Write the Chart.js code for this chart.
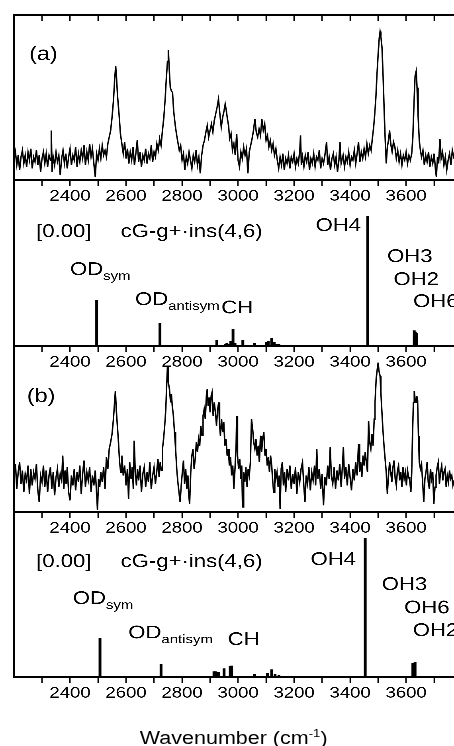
<!DOCTYPE html>
<html>
<head>
<meta charset="utf-8">
<script src="https://cdn.jsdelivr.net/npm/chart.js@4.4.0/dist/chart.umd.min.js"></script>
<style>
  html, body { margin: 0; padding: 0; background: #fff; overflow: hidden; }
  #fig { position: absolute; left: 0; top: 0; width: 380px; height: 746px; transform: scaleX(1.19474); transform-origin: 0 0; }
  #fig canvas { position: absolute; left: 0; }
  #xtitle { position: absolute; left: 117px; top: 729px; font: 18px "Liberation Sans", Arial, sans-serif; line-height: 18px; white-space: nowrap; color: #000; }
  #xtitle sup { font-size: 11px; vertical-align: 7px; line-height: 0; }
</style>
</head>
<body>
<div id="fig">
  <canvas id="specA" width="380" height="210" style="top:0"></canvas>
  <canvas id="stickA" width="380" height="196" style="top:180px"></canvas>
  <canvas id="specB" width="380" height="196" style="top:346px"></canvas>
  <canvas id="stickB" width="380" height="195" style="top:512px"></canvas>
  <div id="xtitle">Wavenumber (cm<sup>-1</sup>)</div>
</div>
<script>
// wavenumber axis
const X_MIN = 2200;
const X_MAX = 3771;
const tickMarks = [2300, 2400, 2500, 2600, 2700, 2800, 2900, 3000, 3100, 3200, 3300, 3400, 3500, 3600, 3700];
const tickLabels = [2400, 2600, 2800, 3000, 3200, 3400, 3600];

// (a) measured spectrum, [wavenumber, intensity]
const specA = [[2200,12],[2205,17],[2210,9],[2215,15],[2220,6],[2225,14],[2230,18],[2235,10],[2240,15],[2245,8],
  [2250,17],[2255,12],[2260,19],[2265,7],[2270,14],[2275,11],[2280,18],[2285,9],[2290,15],[2295,5],[2300,13],[2305,17],
  [2310,10],[2315,16],[2320,8],[2325,15],[2330,12],[2333,30],[2336,5],[2340,14],[2345,9],[2350,17],[2355,11],[2360,15],
  [2365,3],[2370,13],[2375,18],[2380,10],[2385,16],[2390,7],[2395,14],[2400,19],[2405,9],[2410,15],[2415,12],[2420,20],
  [2425,8],[2430,16],[2435,11],[2440,18],[2445,13],[2450,21],[2455,9],[2460,17],[2465,12],[2470,22],[2475,14],[2480,19],
  [2485,10],[2490,2],[2495,16],[2500,12],[2505,19],[2510,13],[2515,21],[2520,15],[2525,18],[2530,14],[2535,22],[2540,26],
  [2545,30],[2550,38],[2555,48],[2559,60],[2563,69],[2566,62],[2570,50],[2575,40],[2580,28],[2585,22],[2590,16],[2595,23],
  [2600,13],[2605,19],[2610,10],[2615,17],[2620,12],[2625,20],[2630,9],[2635,16],[2640,24],[2645,11],[2650,17],[2655,8],
  [2660,15],[2665,12],[2670,19],[2675,10],[2680,16],[2685,13],[2690,21],[2695,11],[2700,17],[2705,14],[2710,22],[2715,18],
  [2720,25],[2725,21],[2730,30],[2735,38],[2740,50],[2744,62],[2748,72],[2751,79],[2754,68],[2758,56],[2762,54],[2766,53],
  [2770,42],[2775,34],[2780,28],[2785,23],[2790,18],[2795,21],[2800,12],[2805,16],[2810,6],[2815,14],[2820,10],[2825,17],
  [2830,12],[2835,7],[2840,15],[2845,11],[2850,18],[2855,9],[2860,14],[2865,4],[2870,15],[2875,21],[2880,24],[2885,29],
  [2890,33],[2895,26],[2900,30],[2905,34],[2910,29],[2915,36],[2920,40],[2925,44],[2930,49],[2935,40],[2940,32],[2945,38],
  [2950,42],[2954,46],[2958,42],[2962,37],[2966,33],[2970,25],[2975,28],[2980,18],[2985,22],[2990,15],[2995,28],[3000,12],
  [3005,8],[3010,17],[3015,13],[3020,20],[3025,15],[3030,19],[3035,4],[3040,17],[3045,21],[3050,25],[3055,30],[3060,37],
  [3065,29],[3070,26],[3075,31],[3080,27],[3085,37],[3090,30],[3095,34],[3100,24],[3105,27],[3110,20],[3115,24],[3120,18],
  [3125,22],[3130,15],[3135,19],[3140,12],[3145,7],[3150,14],[3155,9],[3160,16],[3165,6],[3170,13],[3175,10],[3180,15],
  [3185,7],[3190,14],[3195,11],[3200,16],[3205,8],[3210,13],[3215,10],[3220,17],[3223,27],[3226,9],[3230,14],[3235,8],
  [3240,15],[3245,11],[3250,17],[3255,6],[3260,13],[3265,10],[3270,16],[3275,8],[3280,14],[3285,12],[3290,18],[3295,7],
  [3300,13],[3305,10],[3310,15],[3316,23],[3320,9],[3325,14],[3330,6],[3335,13],[3340,16],[3345,9],[3350,14],[3355,5],
  [3360,12],[3364,23],[3368,10],[3375,15],[3380,8],[3385,14],[3390,11],[3395,17],[3400,9],[3405,14],[3410,12],[3415,18],
  [3420,10],[3425,16],[3430,23],[3435,11],[3440,17],[3445,13],[3450,19],[3455,14],[3460,22],[3465,16],[3470,21],[3475,18],
  [3480,26],[3484,32],[3488,40],[3492,50],[3496,64],[3500,76],[3504,86],[3507,90],[3510,87],[3514,80],[3518,62],[3522,40],
  [3525,26],[3529,10],[3533,20],[3537,24],[3541,30],[3545,22],[3550,17],[3555,23],[3560,20],[3565,13],[3570,18],[3575,11],
  [3580,16],[3585,9],[3590,15],[3595,12],[3600,17],[3605,10],[3610,15],[3615,12],[3620,16],[3624,26],[3628,46],[3632,63],
  [3636,66],[3639,56],[3643,38],[3647,24],[3651,18],[3655,14],[3660,18],[3665,9],[3670,15],[3675,11],[3680,17],[3685,8],
  [3690,14],[3695,10],[3700,16],[3705,6],[3708,2],[3712,14],[3716,10],[3721,25],[3725,13],[3730,17],[3735,9],[3740,14],
  [3745,6],[3750,12],[3755,16],[3760,9],[3765,18],[3771,13]];

// (a) calculated sticks, [wavenumber, intensity]
const sticksA = [[2495,27.7],[2721,13.7],[2924,3.6],[2955,1.2],[2960,1.4],[2965,1.2],[2974,3.0],[2982,10],[2989,1.5],
  [3017,3.2],[3058,1.8],[3102,2],[3108,2.6],[3120,4.4],[3129,2],[3138,1],[3146,0.8],[3463,78.3],[3629,9.2],[3633,8.5],[3638,7.6]];

// (b) measured spectrum
const specB = [[2200,22],[2205,29],[2210,14],[2215,24],[2220,30],[2225,17],[2230,25],[2235,12],[2240,23],[2245,19],
  [2250,28],[2255,11],[2260,26],[2265,16],[2270,24],[2275,20],[2280,29],[2285,13],[2290,6],[2295,22],[2300,18],[2305,28],
  [2310,15],[2315,25],[2320,12],[2325,22],[2330,27],[2335,14],[2340,24],[2345,10],[2350,21],[2355,26],[2360,15],[2365,23],
  [2370,19],[2374,34],[2378,14],[2382,25],[2386,17],[2390,27],[2395,12],[2400,7],[2405,22],[2410,16],[2415,26],[2420,13],
  [2425,24],[2430,18],[2435,28],[2440,11],[2445,23],[2450,31],[2455,15],[2460,24],[2465,19],[2470,27],[2475,12],[2480,22],
  [2485,16],[2490,25],[2494,14],[2498,1],[2502,20],[2506,15],[2510,24],[2515,18],[2520,27],[2525,14],[2530,33],[2535,26],
  [2540,38],[2545,42],[2550,47],[2555,56],[2559,66],[2562,73],[2565,62],[2569,52],[2573,42],[2577,30],[2581,24],[2585,34],
  [2590,22],[2595,28],[2600,16],[2605,26],[2609,8],[2613,30],[2618,20],[2622,27],[2626,14],[2629,43],[2633,24],[2637,16],
  [2641,26],[2645,19],[2650,28],[2655,12],[2660,23],[2665,27],[2670,15],[2675,24],[2680,18],[2685,30],[2690,14],[2695,22],
  [2700,27],[2705,17],[2710,25],[2714,32],[2718,21],[2722,30],[2726,25],[2730,38],[2734,44],[2738,52],[2742,62],[2745,76],
  [2748,88],[2751,78],[2755,74],[2759,66],[2762,71],[2765,64],[2769,58],[2773,48],[2777,38],[2781,26],[2785,18],[2789,12],
  [2793,6],[2797,16],[2801,24],[2805,31],[2809,17],[2813,26],[2817,14],[2821,22],[2824,10],[2827,5],[2831,24],[2835,34],
  [2839,38],[2843,26],[2847,32],[2851,42],[2855,36],[2859,44],[2863,40],[2867,52],[2871,46],[2875,58],[2879,62],[2883,56],
  [2887,70],[2890,74],[2893,64],[2897,69],[2900,60],[2904,70],[2907,72],[2911,58],[2915,66],[2919,60],[2923,52],[2927,62],
  [2931,66],[2934,52],[2937,46],[2941,56],[2945,48],[2949,54],[2953,40],[2957,44],[2961,34],[2965,38],[2969,28],[2973,33],
  [2977,22],[2981,28],[2985,14],[2989,26],[2993,40],[2995,58],[2998,34],[3002,26],[3006,32],[3010,20],[3013,28],[3016,3],
  [3020,24],[3024,18],[3028,27],[3032,15],[3036,26],[3040,22],[3044,30],[3048,56],[3052,50],[3056,42],[3060,38],[3064,44],
  [3068,34],[3072,40],[3076,30],[3080,46],[3084,36],[3088,44],[3092,48],[3096,34],[3100,38],[3104,28],[3108,33],[3112,24],
  [3116,34],[3120,28],[3124,18],[3127,12],[3131,26],[3135,20],[3139,24],[3143,15],[3147,22],[3150,2],[3154,26],[3158,30],
  [3162,16],[3166,24],[3170,12],[3175,26],[3180,19],[3185,28],[3190,14],[3195,23],[3200,17],[3205,27],[3210,11],[3215,24],
  [3220,18],[3225,26],[3230,30],[3235,15],[3239,6],[3243,22],[3248,17],[3253,27],[3258,13],[3263,24],[3268,19],[3273,28],
  [3277,16],[3281,38],[3285,20],[3290,26],[3295,14],[3300,23],[3305,4],[3310,21],[3315,16],[3320,28],[3325,20],[3329,39],
  [3333,22],[3338,17],[3343,27],[3348,14],[3353,25],[3358,19],[3363,29],[3368,15],[3372,26],[3376,39],[3380,20],[3385,27],
  [3390,16],[3395,29],[3400,21],[3405,13],[3410,26],[3415,19],[3420,30],[3425,22],[3430,41],[3434,24],[3438,30],[3442,21],
  [3446,34],[3450,28],[3454,36],[3458,30],[3462,24],[3466,55],[3470,42],[3474,38],[3478,47],[3482,40],[3486,56],[3489,66],
  [3493,80],[3497,86],[3500,90],[3503,85],[3507,82],[3510,72],[3513,62],[3517,50],[3521,40],[3525,32],[3529,24],[3533,11],
  [3537,22],[3541,30],[3545,24],[3549,18],[3553,27],[3557,31],[3561,20],[3565,16],[3569,25],[3573,28],[3577,19],[3581,24],
  [3585,15],[3589,27],[3593,20],[3597,24],[3601,16],[3605,25],[3609,21],[3613,19],[3617,12],[3620,24],[3623,48],[3626,66],
  [3629,73],[3632,68],[3635,66],[3638,70],[3641,67],[3644,46],[3647,30],[3651,26],[3655,29],[3659,18],[3663,6],[3667,20],
  [3671,24],[3675,30],[3679,18],[3683,14],[3687,26],[3691,20],[3695,24],[3699,5],[3703,15],[3707,22],[3711,27],[3715,30],
  [3719,17],[3723,24],[3727,28],[3731,19],[3735,24],[3739,26],[3743,15],[3747,22],[3751,18],[3755,25],[3759,20],[3763,22],
  [3767,16],[3771,19]];

// (b) calculated sticks
const sticksB = [[2507,23.5],[2725,7.8],[2914,3.2],[2920,3.2],[2930,3.0],[2950,5.0],[2972,6.5],[2977,6.7],[3058,1.6],
  [3105,2.2],[3120,4.4],[3132,1.5],[3146,1.0],[3454,84],[3624,8.3],[3632,8.9]];

// text placed in data units of each panel
const notesSpecA = [{ text: '(a)', x: 2254, y: 72.7, size: 19.5 }];
const notesSpecB = [{ text: '(b)', x: 2246, y: 66.3, size: 19.5 }];
const notesStickA = [
  { text: '[0.00]', x: 2279, y: 65.7 },
  { text: 'cG-g+·ins(4,6)', x: 2581, y: 65.7 },
  { text: 'OH4', x: 3439, y: 69.3, align: 'right' },
  { text: 'OD', sub: 'sym', x: 2400, y: 42.8 },
  { text: 'OD', sub: 'antisym', x: 2632, y: 24.7 },
  { text: 'CH', x: 2940, y: 19.7 },
  { text: 'OH3', x: 3532, y: 50.6 },
  { text: 'OH2', x: 3555, y: 36.7 },
  { text: 'OH6', x: 3625, y: 23.5 }
];
const notesStickB = [
  { text: '[0.00]', x: 2279, y: 66.7 },
  { text: 'cG-g+·ins(4,6)', x: 2581, y: 66.7 },
  { text: 'OH4', x: 3421, y: 67.9, align: 'right' },
  { text: 'OD', sub: 'sym', x: 2410, y: 44.2 },
  { text: 'OD', sub: 'antisym', x: 2608, y: 23.5 },
  { text: 'CH', x: 2963, y: 19.4 },
  { text: 'OH3', x: 3513, y: 52.7 },
  { text: 'OH6', x: 3593, y: 38.6 },
  { text: 'OH2', x: 3624, y: 24.8 }
];

const FONT = '"Liberation Sans", Arial, sans-serif';
Chart.defaults.font.family = FONT;
Chart.defaults.color = '#000';

function notesPlugin(items) {
  return {
    id: 'notes',
    afterDatasetsDraw(chart) {
      const ctx = chart.ctx;
      const xs = chart.scales.x, ys = chart.scales.y;
      ctx.save();
      ctx.fillStyle = '#000';
      ctx.textBaseline = 'alphabetic';
      items.forEach(n => {
        ctx.font = (n.size || 18.5) + 'px ' + FONT;
        const w = ctx.measureText(n.text).width;
        let px = xs.getPixelForValue(n.x);
        if (n.align === 'right') px -= w;
        const py = ys.getPixelForValue(n.y);
        ctx.fillText(n.text, px, py);
        if (n.sub) {
          ctx.font = '12.5px ' + FONT;
          ctx.fillText(n.sub, px + w, py + 5);
        }
      });
      ctx.restore();
    }
  };
}

function xAxis() {
  return {
    type: 'linear', axis: 'x', position: 'bottom', min: X_MIN, max: X_MAX, offset: false,
    afterBuildTicks: s => { s.ticks = tickMarks.map(v => ({ value: v })); },
    afterFit: s => { s.height = 30; },
    border: { display: true, color: '#000', width: 1.4 },
    grid: { display: true, offset: false, drawOnChartArea: false, drawTicks: true, tickLength: 6, tickWidth: 1.2, tickColor: '#000' },
    ticks: {
      autoSkip: false, maxRotation: 0, padding: 1, color: '#000', font: { size: 15.5 },
      callback: v => tickLabels.includes(v) ? String(v) : ''
    }
  };
}

function yAxis() {
  return {
    type: 'linear', position: 'left', min: 0, max: 100,
    afterFit: s => { s.width = 0; },
    border: { display: true, color: '#000', width: 1.6 },
    grid: { display: true, drawOnChartArea: false, drawTicks: false },
    ticks: { display: false }
  };
}

function baseOptions(top) {
  return {
    responsive: false,
    maintainAspectRatio: false,
    devicePixelRatio: 3,
    animation: false,
    events: [],
    layout: { padding: { top: top, left: 11.72, right: 0, bottom: 0 } },
    plugins: { legend: { display: false }, tooltip: { enabled: false } },
    scales: { x: xAxis(), y: yAxis() }
  };
}

function spectrumChart(id, series, notes, top, withTopAxis) {
  const options = baseOptions(top);
  if (withTopAxis) {
    const t = xAxis();
    t.position = { y: 100 };
    t.afterFit = undefined;
    t.grid.tickLength = 5;
    t.ticks = { display: false };
    options.scales.xTop = t;
  }
  new Chart(document.getElementById(id), {
    type: 'line',
    data: {
      datasets: [{
        data: series.map(([x, y]) => ({ x, y })),
        xAxisID: 'x', yAxisID: 'y',
        borderColor: '#000', borderWidth: 1.2, pointRadius: 0, tension: 0, fill: false
      }]
    },
    options: options,
    plugins: [notesPlugin(notes)]
  });
}

function stickChart(id, sticks, notes) {
  new Chart(document.getElementById(id), {
    type: 'bar',
    data: {
      datasets: [{
        data: sticks.map(([x, y]) => ({ x, y })),
        backgroundColor: '#000', borderWidth: 0, barThickness: 1.7, grouped: false
      }]
    },
    options: baseOptions(0),
    plugins: [notesPlugin(notes)]
  });
}

spectrumChart('specA', specA, notesSpecA, 15, true);
stickChart('stickA', sticksA, notesStickA);
spectrumChart('specB', specB, notesSpecB, 0, false);
stickChart('stickB', sticksB, notesStickB);
</script>
</body>
</html>
